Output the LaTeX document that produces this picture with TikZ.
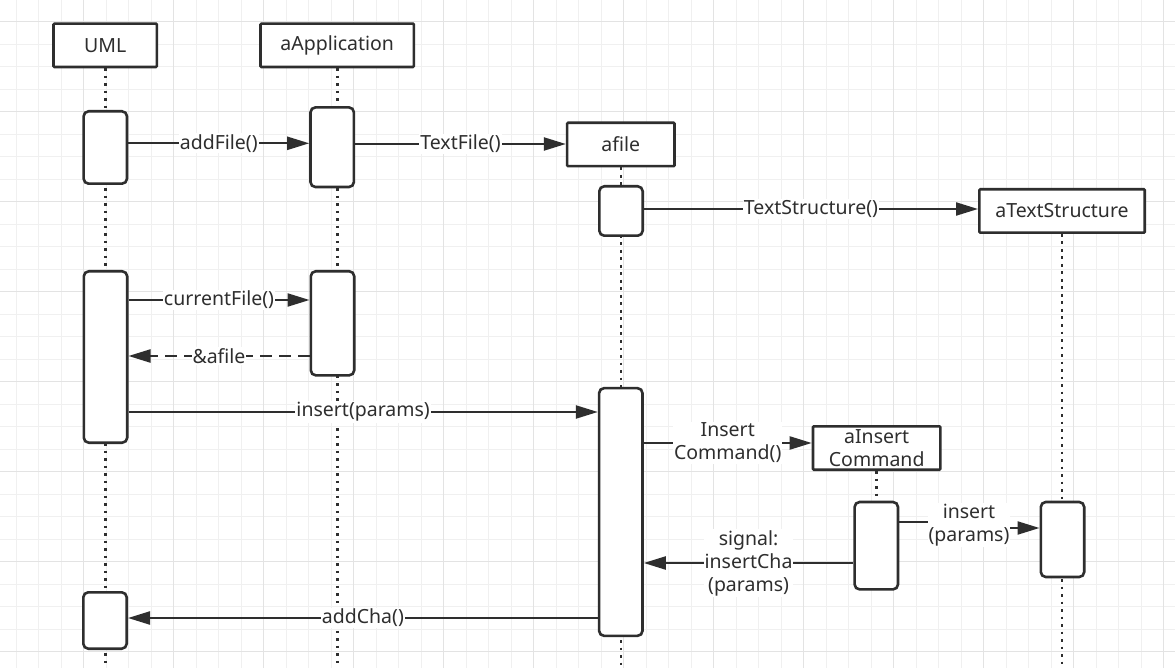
\documentclass[tikz,border=0pt]{standalone}
\usepackage{fontspec}
\setmainfont{Noto Sans}
\usetikzlibrary{arrows.meta}
\definecolor{ink}{HTML}{2E2E2E}
\definecolor{gridminor}{HTML}{F0F0F0}
\definecolor{gridmajor}{HTML}{E3E3E3}

\begin{document}
\begin{tikzpicture}[x=1pt,y=-1pt,
  every node/.style={font=\fontsize{19.5}{23}\selectfont, text=ink},
  object/.style={draw=ink, line width=2.6pt, fill=white, rounded corners=1pt,
    minimum height=43.4pt, inner sep=0pt, align=center},
  activation/.style={draw=ink, line width=2.6pt, fill=white, rounded corners=5pt,
    minimum width=43.4pt, inner sep=0pt},
  lifeline/.style={draw=ink, line width=2.6pt, dash pattern=on 2.6pt off 4.9pt},
  msg/.style={draw=ink, line width=2.2pt, -{Triangle[length=22pt,width=13pt]}},
  reply/.style={msg, dash pattern=on 12pt off 7pt},
  lbl/.style={fill=white, inner sep=1pt, align=center},
  minorline/.style={draw=gridminor, line width=1.2pt},
  majorline/.style={draw=gridmajor, line width=1.2pt},
]
\useasboundingbox (0,0) rectangle (1175,668);
\fill[white] (0,0) rectangle (1175,668);

% background grid
\foreach \k in {0,...,51} \draw[minorline] ({16.3+22.5*\k},0) -- ({16.3+22.5*\k},668);
\foreach \k in {0,...,28} \draw[minorline] (0,{21.7+22.5*\k}) -- (1175,{21.7+22.5*\k});
\foreach \k in {0,...,12} \draw[majorline] ({83.8+90*\k},0) -- ({83.8+90*\k},668);
\foreach \k in {0,...,7} \draw[majorline] (0,{21.7+90*\k}) -- (1175,{21.7+90*\k});

% objects
\node[object, minimum width=103.4pt] (uml) at (105.2,45.3) {UML};
\node[object, minimum width=153.4pt] (app) at (337.2,45.3) {aApplication};
\node[object, minimum width=107.4pt] (afile) at (620.8,144.5) {afile};
\node[object, minimum width=165.4pt] (atext) at (1062,211) {aTextStructure};
\node[object, minimum width=127.4pt] (acmd) at (876.7,448) {aInsert\\Command};

% lifelines
\draw[lifeline] (uml.south) -- (uml.south |- 0,668);
\draw[lifeline] (app.south) -- (app.south |- 0,668);
\draw[lifeline] (afile.south) -- (afile.south |- 0,668);
\draw[lifeline] (atext.south) -- (atext.south |- 0,668);
\draw[lifeline] (acmd.south) -- (acmd.south |- 0,500);

% activation bars
\node[activation, minimum height=72.4pt] (u1) at (105.3,147.5) {};
\node[activation, minimum height=79.7pt] (a1) at (332.2,147.2) {};
\node[activation, minimum height=49.4pt] (f1) at (621,211) {};
\node[activation, minimum height=171.4pt] (u2) at (105.5,357) {};
\node[activation, minimum height=104.1pt] (a2) at (332.5,323.3) {};
\node[activation, minimum height=247.7pt] (f2) at (620.8,512) {};
\node[activation, minimum height=87.4pt] (c1) at (876.3,545.7) {};
\node[activation, minimum height=75pt] (t1) at (1062.5,539.5) {};
\node[activation, minimum height=56.4pt] (u3) at (105,620.5) {};

% messages
\draw[msg] (u1.east |- 0,143.3) -- node[lbl]{addFile()} (a1.west |- 0,143.3);
\draw[msg] (a1.east |- 0,144) -- node[lbl]{TextFile()} (afile.west |- 0,144);
\draw[msg] (f1.east |- 0,209) -- node[lbl]{TextStructure()} (atext.west |- 0,209);
\draw[msg] (u2.east |- 0,300) -- node[lbl]{currentFile()} (a2.west |- 0,300);
\draw[reply] (a2.west |- 0,356) -- node[lbl]{\&afile} (u2.east |- 0,356);
\draw[msg] (u2.east |- 0,412) -- node[lbl]{insert(params)} (f2.west |- 0,412);
\draw[msg] (f2.east |- 0,443) -- node[lbl]{Insert\\Command()} (acmd.west |- 0,443);
\draw[msg] (c1.east |- 0,522) -- (969,522) -- node[lbl]{insert\\(params)} (969,528) -- (t1.west |- 0,528);
\draw[msg] (c1.west |- 0,563) -- node[lbl]{signal:\\insertCha\\(params)} (f2.east |- 0,563);
\draw[msg] (f2.west |- 0,618) -- node[lbl]{addCha()} (u3.east |- 0,618);
\end{tikzpicture}
\end{document}
